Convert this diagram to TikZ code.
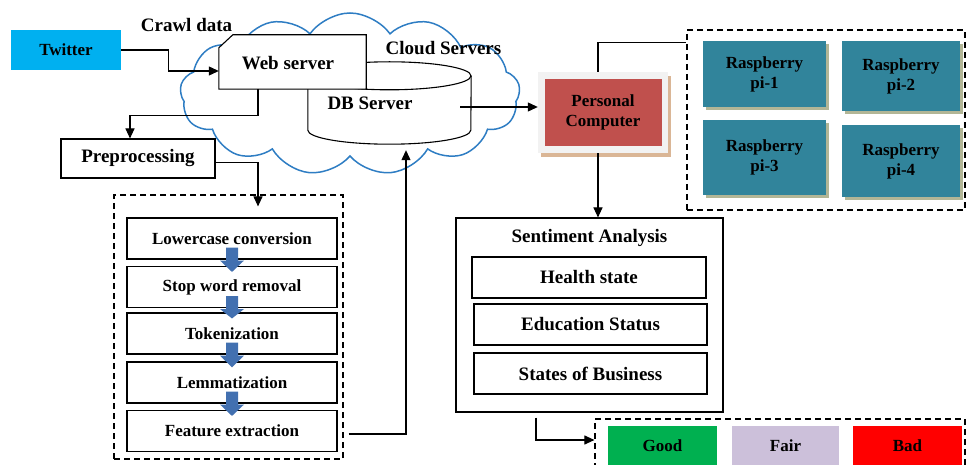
\documentclass[tikz,border=0pt]{standalone}
\usepackage{fontspec}
\setmainfont{Liberation Serif}
\usetikzlibrary{arrows.meta,calc,shapes.symbols,shapes.geometric,shadows}
\definecolor{twblue}{RGB}{0,176,240}
\definecolor{cloudblue}{RGB}{46,125,195}
\definecolor{pcred}{RGB}{192,80,77}
\definecolor{pcframe}{RGB}{242,242,242}
\definecolor{pcshadow}{RGB}{218,182,150}
\definecolor{rasp}{RGB}{49,132,155}
\definecolor{raspshadow}{RGB}{178,182,150}
\definecolor{stepblue}{RGB}{66,112,176}
\definecolor{goodgreen}{RGB}{0,176,80}
\definecolor{fairlilac}{RGB}{204,192,218}
\begin{document}
\begin{tikzpicture}[x=1pt,y=-1pt,
  f19/.style={font=\bfseries\fontsize{19}{21}\selectfont},
  f17/.style={font=\bfseries\fontsize{17}{19}\selectfont},
  f16/.style={font=\bfseries\fontsize{17}{20}\selectfont, align=center},
  sz/.style 2 args={minimum width=#1pt, minimum height=#2pt},
  box/.style={draw, line width=1.1pt, inner sep=0pt},
  dbox/.style={draw, line width=1.2pt, dash pattern=on 6pt off 4pt, inner sep=0pt},
  conn/.style={line width=1.1pt, -{Triangle[length=10pt,width=9pt]}},
  plain/.style={line width=1.1pt},
  raspbox/.style={fill=rasp, inner sep=0pt, f16,
    general shadow={fill=raspshadow, shadow xshift=3pt, shadow yshift=-3pt}},
  resbox/.style={inner sep=0pt, f17}
]
\useasboundingbox (0,0) rectangle (967,465);
\clip (0,0) rectangle (967,465);

% cloud
\node[cloud, draw=cloudblue, line width=1.5pt, cloud puffs=13, cloud puff arc=110,
  cloud ignores aspect, sz={340}{162}] (cloud) at (350,94) {};

% DB cylinder
\path node[sz={163}{82}, inner sep=0pt] (db) at (389.5,103) {};
\draw[plain] ($(db.north)+(0,14)$) ellipse [x radius=81.5pt, y radius=14pt];
\draw[plain] ($(db.north west)+(0,14)$) -- ($(db.south west)+(0,-14)$)
  arc[start angle=180, end angle=360, x radius=81.5pt, y radius=14pt]
  -- ($(db.north east)+(0,14)$);
\node[f19] at (370,103) {DB Server};

% web server
\path node[sz={147}{54}, inner sep=0pt] (web) at (292.5,62) {};
\draw[plain, fill=white] ($(web.north west)+(0,13)$) -- ($(web.north west)+(14,0)$)
  -- (web.north east) -- (web.south east) -- (web.south west) -- cycle;
\node[f19] at (288,63) {Web server};

\node[f19] at (186.5,25) {Crawl data};
\node[f19] at (443.5,48) {Cloud Servers};

% twitter
\node[fill=twblue, sz={110}{40}, inner sep=0pt, f17] (tw) at (66,50) {Twitter};

% preprocessing
\node[box, sz={154}{39}, f19] (prep) at (138,158.5) {Preprocessing};

% preprocessing steps
\node[dbox, sz={229}{264}] (pbox) at (228.5,327) {};
\node[box, sz={210}{41}, f17] (s1) at (232,238.5) {Lowercase conversion};
\node[box, sz={210}{41}, f17] (s2) at (232,287) {Stop word removal};
\node[box, sz={210}{41}, f17] (s3) at (232,333.5) {Tokenization};
\node[box, sz={210}{41}, f17] (s4) at (232,382.5) {Lemmatization};
\node[box, sz={210}{41}, f17] (s5) at (232,431) {Feature extraction};
\foreach \a/\b in {s1/s2,s2/s3,s3/s4,s4/s5}{
  \fill[stepblue] ($(\a.south)+(-6,-12)$) -- ($(\a.south)+(6,-12)$)
    -- ($(\a.south)+(6,1)$) -- ($(\a.south)+(12,1)$) -- ($(\b.north)+(0,6)$)
    -- ($(\a.south)+(-12,1)$) -- ($(\a.south)+(-6,1)$) -- cycle;
}

% personal computer
\node[fill=pcframe, sz={130}{81}, inner sep=0pt,
  general shadow={fill=pcshadow, shadow xshift=3pt, shadow yshift=-4pt}] (pc) at (603,112.5) {};
\node[fill=pcred, sz={117}{67}, inner sep=0pt, f16] (pcin) at (pc.center) {Personal\\Computer};

% raspberry pis
\node[dbox, sz={278}{180}] (rbox) at (826,120) {};
\node[raspbox, sz={123}{66}] (r1) at (764.5,74) {Raspberry\\pi-1};
\node[raspbox, sz={118}{70}] (r2) at (901,76) {Raspberry\\pi-2};
\node[raspbox, sz={123}{75}] (r3) at (764.5,157.5) {Raspberry\\pi-3};
\node[raspbox, sz={118}{72}] (r4) at (901,161) {Raspberry\\pi-4};

% sentiment analysis
\node[box, sz={267}{194}] (sa) at (589.5,315) {};
\node[f19] at (589.5,238) {Sentiment Analysis};
\node[box, sz={234}{41}, f19] (h1) at (589,277.5) {Health state};
\node[box, sz={233}{41}, f19] (h2) at (590.5,324.5) {Education Status};
\node[box, sz={233}{41}, f19] (h3) at (590.5,373.5) {States of Business};

% results
\node[dbox, sz={370}{56}] (rdash) at (780,447) {};
\node[resbox, fill=goodgreen, sz={109}{44}] (good) at (662.5,448) {\raisebox{5pt}{Good}};
\node[resbox, fill=fairlilac, sz={107}{44}] (fair) at (785.5,448) {\raisebox{5pt}{Fair}};
\node[resbox, fill=red, sz={109}{44}] (bad) at (907.5,448) {\raisebox{5pt}{Bad}};

% connectors
\draw[conn] (tw.east) -- ++(47,0) |- ($(web.west)+(0,9)$);
\draw[conn] ($(web.south)+(-34.5,0)$) -- ++(0,26) -| ($(prep.north)+(-8,0)$);
\draw[conn] ($(prep.east)+(0,4)$) -| ($(pbox.north)+(29.5,12)$);
\coordinate (fe) at ($(s5.east -| pbox.east)+(5,3)$);
\draw[conn] (fe) -| ($(db.south)+(16.5,6)$);
\draw[conn] ($(db.east)+(-11,4)$) -- ($(pc.west)+(0,-5.5)$);
\draw[plain] ($(pc.north)+(-5,0)$) |- ($(rbox.north west)+(0,13)$);
\coordinate (pcx) at ($(pc.south)+(-5,0)$);
\draw[conn] (pcx) -- (pcx |- sa.north);
\draw[conn] ($(sa.south)+(-53.5,5)$) |- ($(rdash.west)+(0,-7)$);
\end{tikzpicture}
\end{document}
